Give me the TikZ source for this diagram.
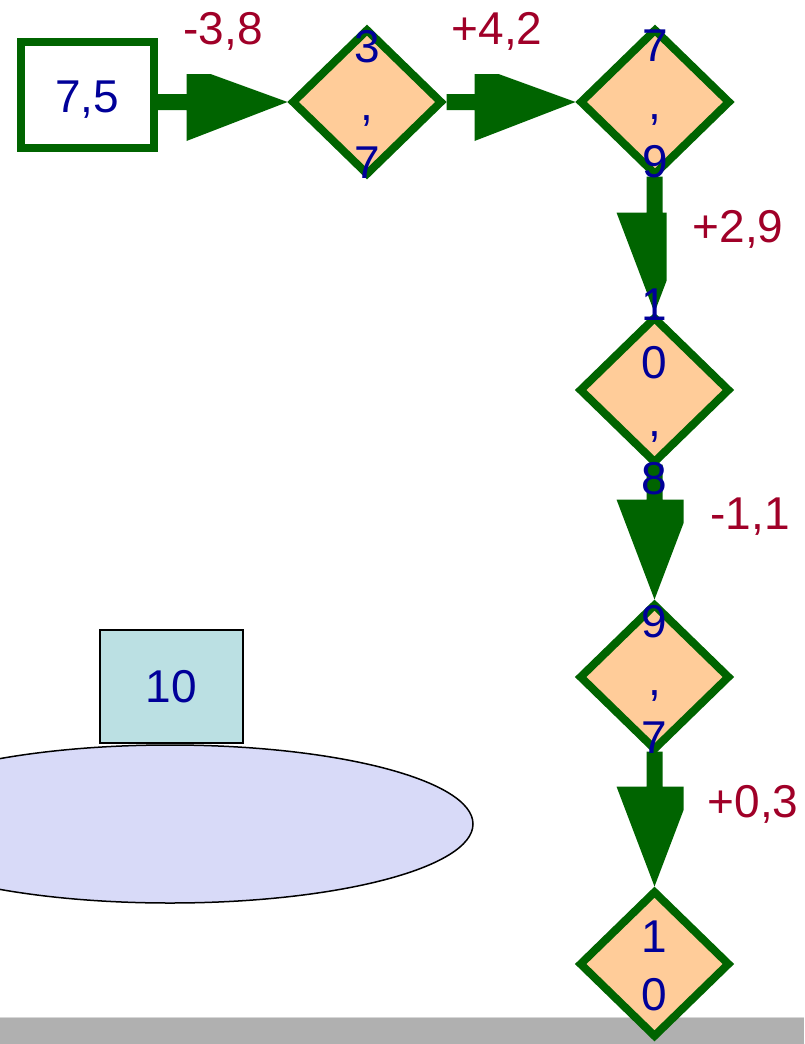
\documentclass[tikz,border=0pt]{standalone}
\usepackage{fontspec}
\setmainfont{Liberation Sans}
\usetikzlibrary{shapes.geometric,calc}
\definecolor{dgreen}{RGB}{0,100,0}
\definecolor{peach}{RGB}{255,204,153}
\definecolor{nodeblue}{RGB}{0,0,153}
\definecolor{labelred}{RGB}{160,0,40}
\definecolor{cyanfill}{RGB}{187,224,227}
\definecolor{lavender}{RGB}{216,218,248}
\definecolor{bargray}{RGB}{176,176,176}
\newcommand\hconnector[2]{%
  \fill[link] ($(#1.east |- #2.west)+(0,-8)$) -- ($(#2.west)+(-101,-8)$) -- ($(#2.west)+(-101,-28)$) -- ($(#2.west)+(-77,-28)$) -- (#2.west) -- ($(#2.west)+(-101,39)$) -- ($(#2.west)+(-101,8)$) -- ($(#1.east |- #2.west)+(0,8)$) -- cycle;}
\newcommand\vconnector[3]{%
  \fill[link] ($(#1.south -| #2.north)+(-8,-3)$) -- ($(#2.north)+(-8,-100)$) -- ($(#2.north)+(-38,-100)$) -- (#2.north) -- ($(#2.north)+(#3,{-#3*100/38})$) -- ($(#2.north)+(#3,-100)$) -- ($(#2.north)+(8,-100)$) -- ($(#1.south -| #2.north)+(8,-3)$) -- cycle;}
\begin{document}
\begin{tikzpicture}[x=1pt,y=-1pt,
  big/.style={font=\fontsize{46}{58}\selectfont},
  dmd/.style={diamond, draw=dgreen, fill=peach, line width=8pt, minimum width=151pt, minimum height=147pt, inner sep=0pt},
  dtext/.style={big, text=nodeblue, align=center, inner sep=0pt, yshift=-2pt},
  elabel/.style={big, text=labelred, anchor=base, inner sep=0pt},
  link/.style={fill=dgreen}]
\useasboundingbox (0,0) rectangle (804,1044);
\clip (0,0) rectangle (804,1044);
\fill[white] (0,0) rectangle (804,1044);
% bottom bar
\fill[bargray] (0,1017) rectangle (804,1044);
\draw[line width=1pt, color={rgb,255:red,215;green,215;blue,215}] (0,1017.5) -- (804,1017.5);
% ellipse and cyan box
\node[ellipse, draw=black, line width=1.5pt, fill=lavender, minimum width=606pt, minimum height=158pt, inner sep=0pt] (ell) at (170,824) {};
\node[draw=black, line width=2pt, fill=cyanfill, minimum width=143pt, minimum height=113pt, inner sep=0pt, big, text=nodeblue] (c10) at (171.5,686.5) {10};
% start box
\node[draw=dgreen, fill=white, line width=8pt, minimum width=133pt, minimum height=106pt, inner sep=0pt, big, text=nodeblue, text height=34pt, text depth=0pt] (n0) at (87,95) {7,5};
% diamonds
\node[dmd] (d1) at (367,102) {};
\node[dmd] (d2) at (655,102) {};
\node[dmd] (d3) at (654.5,390) {};
\node[dmd] (d4) at (654.5,677) {};
\node[dmd] (d5) at (654.5,964) {};
% connectors
\hconnector{n0}{d1}
\hconnector{d1}{d2}
\vconnector{d2}{d3}{12}
\vconnector{d3}{d4}{29}
\vconnector{d4}{d5}{29}
% diamond texts
\node[dtext] (t1) at (d1.center) {3\\,\\7};
\node[dtext] (t2) at (d2.center) {7\\,\\9};
\node[dtext] (t3) at (d3.center) {1\\0\\,\\8};
\node[dtext] (t4) at (d4.center) {9\\,\\7};
\node[dtext] (t5) at (d5.center) {1\\0};
% edge labels
\node[elabel] (l1) at (223,44) {-3,8};
\node[elabel] (l2) at (497,44) {+4,2};
\node[elabel] (l3) at (738,242) {+2,9};
\node[elabel] (l4) at (750,529) {-1,1};
\node[elabel] (l5) at (753,817) {+0,3};
\end{tikzpicture}
\end{document}
